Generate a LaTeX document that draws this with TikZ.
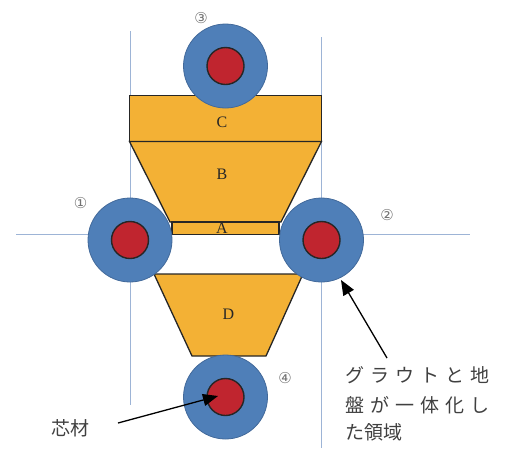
\documentclass[tikz,border=0pt]{standalone}
\usepackage{fontspec}
\setmainfont{Liberation Serif}
\newfontfamily\jpfont{Noto Sans CJK JP}
\newfontfamily\symfont{DejaVu Sans}
\usetikzlibrary{arrows.meta}
\definecolor{gblue}{HTML}{4F7FB8}
\definecolor{gedge}{HTML}{42699A}
\definecolor{corered}{HTML}{C0252F}
\definecolor{slab}{HTML}{F3B135}
\definecolor{axis}{HTML}{9DB4D6}
\tikzset{
 axisline/.style={axis,line width=0.8pt},
 grout/.style={circle,draw=gedge,fill=gblue,line width=0.8pt,minimum size=84pt,inner sep=0pt},
 corecirc/.style={circle,draw=black!85,fill=corered,line width=1.4pt,minimum size=37pt,inner sep=0pt},
 slabshape/.style={draw=black!85,fill=slab,line width=1.3pt,line join=miter},
 letter/.style={font=\fontsize{16}{16}\selectfont,text=black!85,inner sep=0pt},
 marker/.style={font=\symfont\fontsize{15}{15}\selectfont,text=black!55,inner sep=0pt},
 jptext/.style={font=\jpfont\fontsize{19}{19}\selectfont,text=black!75,inner sep=0pt,anchor=west},
 pointer/.style={-{Triangle[length=15pt,width=12pt]},black,line width=1.3pt}
}
\begin{document}
\begin{tikzpicture}[x=1pt,y=-1pt]
\useasboundingbox (0,0) rectangle (513,448);
% axis lines
\coordinate (v1t) at (130,31); \coordinate (v1b) at (130,405);
\coordinate (v2t) at (321.5,37); \coordinate (v2b) at (321.5,448);
\coordinate (hl) at (16,234); \coordinate (hr) at (470,234);
\draw[axisline] (v1t) -- (v1b);
\draw[axisline] (v2t) -- (v2b);
\draw[axisline] (hl) -- (hr);
% slabs
\draw[slabshape] (129.5,95.5) rectangle (321.5,141.5);
\draw[slabshape] (129.5,141.5) -- (321.5,141.5) -- (281,222) -- (170,222) -- cycle;
\draw[slabshape] (172,222) rectangle (279,234.5);
\draw[slabshape] (154,274) -- (303,274) -- (266,356) -- (192,356) -- cycle;
\node[letter] (lc) at (222,122.5) {C};
\node[letter] (lb) at (222,174.5) {B};
\node[letter] (la) at (222,228) {A};
\node[letter] (ld) at (228.5,314) {D};
% piles
\node[grout] (g3) at (225.5,66) {};
\node[grout] (g1) at (130,240) {};
\node[grout] (g2) at (321.5,240) {};
\node[grout] (g4) at (225.5,397) {};
\node[corecirc] (c3) at (225.5,66) {};
\node[corecirc] (c1) at (130,240) {};
\node[corecirc] (c2) at (321.5,240) {};
\node[corecirc] (c4) at (225.5,397) {};
% markers
\node[marker] (m1) at (80.5,203) {①};
\node[marker] (m2) at (387,215.5) {②};
\node[marker] (m3) at (201,18) {③};
\node[marker] (m4) at (285,378) {④};
% labels
\node[jptext] (t1) at (345,375) {グ\hspace{6pt}ラ\hspace{6pt}ウ\hspace{6pt}ト\hspace{6pt}と\hspace{6pt}地};
\node[jptext] (t2) at (345,405) {盤\hspace{6pt}が\hspace{6pt}一\hspace{6pt}体\hspace{6pt}化\hspace{6pt}し};
\node[jptext] (t3) at (345,432) {た領域};
\node[jptext] (t4) at (51,428) {芯材};
% pointers
\coordinate (p1) at (387,358); \coordinate (p1e) at (341,280);
\coordinate (p2) at (118,423); \coordinate (p2e) at (218,396);
\draw[pointer] (p1) -- (p1e);
\draw[pointer] (p2) -- (p2e);
\end{tikzpicture}
\end{document}
